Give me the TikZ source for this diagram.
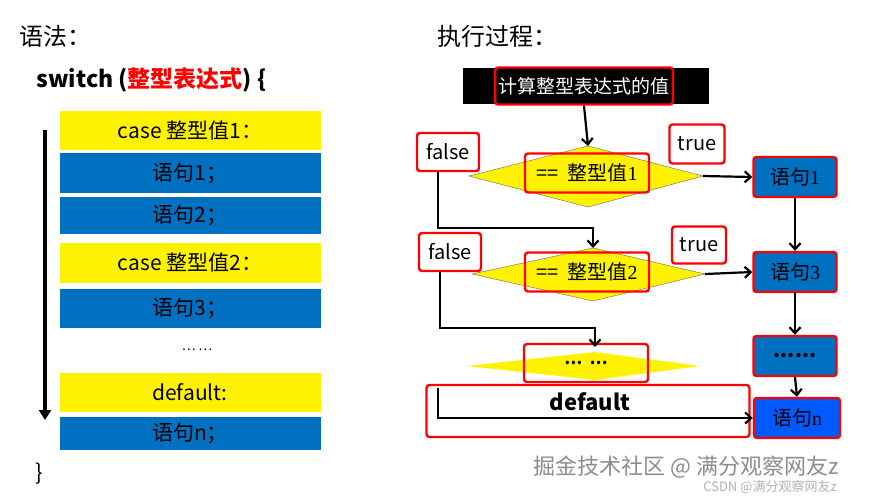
\documentclass[tikz,border=0pt]{standalone}
\usepackage{fontspec}
\setmainfont{Noto Sans CJK SC}
\newfontfamily\serifcjk{Liberation Serif}
\usetikzlibrary{arrows.meta}
\begin{document}
\begin{tikzpicture}[x=1pt,y=-1pt,
  ybar/.style={fill=yellow,draw=none},
  bbar/.style={fill={rgb,255:red,0;green,112;blue,192},draw=none},
  redbox/.style={draw=red,line width=2.4pt,rounded corners=3pt},
  flow/.style={draw=black,line width=2.2pt,-{Straight Barb[length=6pt,width=11pt,line width=2.2pt]}},
  dia/.style={fill=yellow,draw=black!60,line width=0.4pt},
  bl/.style={font=\fontsize{21}{21}\selectfont},
  rl/.style={font=\fontsize{20}{20}\selectfont}]
\useasboundingbox (0,0) rectangle (870,499);
\fill[white] (0,0) rectangle (870,499);
% left
\node[font=\fontsize{24}{24}\selectfont,anchor=west] (t1) at (16,36) {语法：};
\node[font=\fontsize{23}{23}\selectfont\bfseries,anchor=west] (sw) at (33,80) {switch (\textcolor{red}{整型表达式}) \{};
\fill[ybar] (60,111) rectangle (321,150); \node[bl] (c1) at (190,131) {case 整型值1：};
\fill[bbar] (60,153) rectangle (321,193); \node[bl] (s1) at (190,173) {语句1；};
\fill[bbar] (60,197) rectangle (321,234); \node[bl] (s2) at (190,215) {语句2；};
\fill[ybar] (60,243) rectangle (321,283); \node[bl] (c2) at (190,263) {case 整型值2：};
\fill[bbar] (60,289) rectangle (321,328); \node[bl] (s3) at (190,308) {语句3；};
\node[font=\fontsize{13}{13}\selectfont] (dd) at (197,350) {… …};
\fill[ybar] (60,373) rectangle (321,412); \node[bl] (df) at (190,392) {default:};
\fill[bbar] (60,417) rectangle (321,450); \node[bl] (sn) at (190,433) {语句n；};
\coordinate (a1) at (45,130); \coordinate (a2) at (45,420);
\draw[line width=4pt,-{Triangle[length=10pt,width=12pt]}] (a1) -- (a2);
\node[font=\fontsize{22}{22}\selectfont,anchor=west] (cb) at (32,474) {\}};
% right
\node[font=\fontsize{24}{24}\selectfont,anchor=west] (t2) at (434,36) {执行过程：};
\fill[black] (463,68) rectangle (709,104);
\node[draw=red,line width=2.4pt,rounded corners=3pt,minimum width=175pt,minimum height=37pt,text=white,font=\fontsize{19}{19}\selectfont] (calc) at (584,86) {计算整型表达式的值};
% diamonds
\draw[dia] (469,176) -- (588,146) -- (703,176) -- (588,207) -- cycle;
\node[redbox,minimum width=124pt,minimum height=39pt,rl] (d1) at (587,173) {==\ \ 整型值{\serifcjk 1}};
\draw[dia] (472,274) -- (593,248) -- (705,274) -- (593,301) -- cycle;
\node[redbox,minimum width=124pt,minimum height=39pt,rl] (d2) at (587,272) {==\ \ 整型值{\serifcjk 2}};
\draw[dia,draw=none] (467,366) -- (595,352) -- (700,366) -- (595,380) -- cycle;
\node[redbox,minimum width=124pt,minimum height=38pt,font=\fontsize{16}{16}\selectfont\bfseries] (d3) at (586,363) {…\ \ …};
% labels
\node[redbox,fill=white,minimum width=62pt,minimum height=38pt,rl] (f1) at (448,152) {false};
\node[redbox,fill=white,minimum width=62pt,minimum height=38pt,rl] (f2) at (450,252) {false};
\node[redbox,fill=white,minimum width=55pt,minimum height=39pt,rl] (tr1) at (697,144) {true};
\node[redbox,fill=white,minimum width=54pt,minimum height=37pt,rl] (tr2) at (699,245) {true};
% statements
\tikzset{stm/.style={redbox,fill={rgb,255:red,0;green,112;blue,192},minimum width=83pt,minimum height=40pt,rl}}
\node[stm] (r1) at (795,177) {语句{\serifcjk 1}};
\node[stm] (r3) at (795,272) {语句{\serifcjk 3}};
\node[stm] (r4) at (795,356) {\textbf{......}};
\node[stm,fill={rgb,255:red,0;green,90;blue,255},minimum width=86pt] (rn) at (797,418) {语句{\serifcjk n}};
% default
\node[redbox,minimum width=323pt,minimum height=52pt] (dfb) at (588,411) {};
\node[font=\fontsize{22}{22}\selectfont\bfseries] (dft) at (590,402) {default};
% connectors
\draw[flow] (calc.south) -- (588,146);
\draw[flow] (703,176) -- (r1.west);
\draw[flow] (705,274) -- (r3.west);
\draw[flow] (r1.south) -- (r3.north);
\draw[flow] (r3.south) -- (r4.north);
\draw[flow] (r4.south) -- (rn.north);
\coordinate (g1) at (593,248);
\coordinate (g2) at (595,347);
\draw[flow] (438,172) |- (593,228) -- (g1);
\draw[flow] (440,272) |- (595,328) -- (g2);
\draw[flow] (438,388) |- (rn.west);
% watermark
\node[text=black!45,font=\fontsize{22}{22}\selectfont] (wm) at (686,467) {掘金技术社区 @ 满分观察网友z};
\node[text=black!30,font=\fontsize{13}{13}\selectfont] (wm2) at (770,487) {CSDN @满分观察网友z};
\end{tikzpicture}
\end{document}
